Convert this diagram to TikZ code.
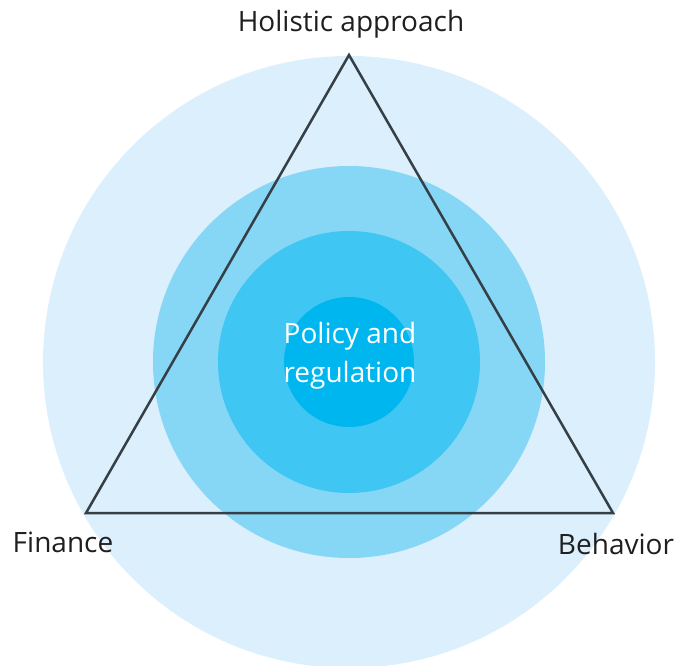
\documentclass[tikz,border=0pt]{standalone}
\usepackage{fontspec}
\setmainfont{Open Sans}
\begin{document}
\begin{tikzpicture}[x=1pt,y=-1pt,
  lbl/.style={text=black!88, font=\fontsize{28}{33}\selectfont, inner sep=0pt},
  ring/.style={draw=none, circle}]
\useasboundingbox (0,0) rectangle (680,666);
\definecolor{c1}{HTML}{DCEFFC}
\definecolor{c2}{HTML}{86D6F5}
\definecolor{c3}{HTML}{3FC6F2}
\definecolor{c4}{HTML}{00B6EF}
\definecolor{tri}{HTML}{353F46}
\begin{scope}
\clip (0,0) rectangle (680,666);
\fill[c1] (349,362) circle (306);
\fill[c2] (349,362) circle (196);
\fill[c3] (349,362) circle (131);
\fill[c4] (349,362) circle (65);
\end{scope}
\coordinate (top) at (349,55);
\coordinate (left) at (86,513);
\coordinate (right) at (613,513);
\draw[tri, line width=2.5pt, line join=miter] (top) -- (left) -- (right) -- cycle;
\node[lbl] (hol) at (351,24) {Holistic approach};
\node[lbl] (fin) at (63,542) {Finance};
\node[lbl] (beh) at (616,544) {Behavior};
\node[lbl, text=white, align=center, font=\fontsize{28}{39}\selectfont] (pol) at (350,356) {Policy and\\regulation};
\end{tikzpicture}
\end{document}
